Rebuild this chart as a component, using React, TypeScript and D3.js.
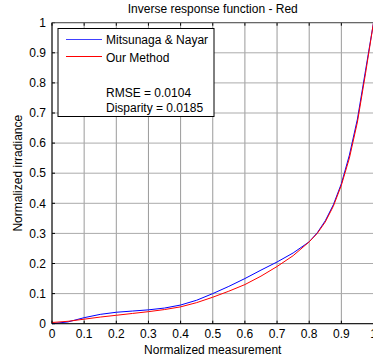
import React from "react";
import * as d3 from "d3";

const xs = [0, 0.05, 0.1, 0.15, 0.2, 0.25, 0.3, 0.35, 0.4, 0.45, 0.5, 0.55, 0.6, 0.65, 0.7, 0.75, 0.8, 0.825, 0.85, 0.875, 0.9, 0.925, 0.95, 0.975, 1.0];
const mitsunaga = [0.0, 0.006, 0.02, 0.031, 0.038, 0.042, 0.046, 0.052, 0.062, 0.078, 0.1, 0.124, 0.15, 0.178, 0.205, 0.235, 0.272, 0.302, 0.342, 0.395, 0.465, 0.56, 0.68, 0.84, 1.0];
const ours = [0.004, 0.008, 0.015, 0.022, 0.028, 0.034, 0.04, 0.047, 0.056, 0.07, 0.088, 0.108, 0.13, 0.158, 0.19, 0.226, 0.272, 0.3, 0.338, 0.39, 0.46, 0.55, 0.67, 0.83, 1.0];
const ticks = [0, 0.1, 0.2, 0.3, 0.4, 0.5, 0.6, 0.7, 0.8, 0.9, 1];
const legendNames = ["Mitsunaga & Nayar", "Our Method"];
const stats = ["RMSE = 0.0104", "Disparity = 0.0185"];

const W = 373, H = 364;
const L = 52, R = 373.5, T = 22.7, B = 323.7;
const font = "'Liberation Sans', Arial, sans-serif";
const FS = 12;

export default function App() {
  const x = d3.scaleLinear().domain([0, 1]).range([L, R]);
  const y = d3.scaleLinear().domain([0, 1]).range([B, T]);
  const line = (vals: number[]) =>
    d3.line<number>().x((_, i) => x(xs[i])).y((v) => y(v))(vals) || "";
  const fmt = (t: number) => (t === 0 || t === 1 ? String(t) : t.toFixed(1));

  return (
    <svg width={W} height={H} style={{ position: "absolute", left: 0, top: 0, background: "#fff" }} fontFamily={font}>
      <rect x={0} y={0} width={W} height={H} fill="#fff" />
      {/* grid */}
      {ticks.map((t) => (
        <line key={"gx" + t} x1={x(t)} x2={x(t)} y1={T} y2={B} stroke="#9a9a9a" strokeWidth={1} />
      ))}
      {ticks.map((t) => (
        <line key={"gy" + t} x1={L} x2={R} y1={y(t)} y2={y(t)} stroke="#ababab" strokeWidth={1} />
      ))}
      {/* tick marks */}
      {ticks.map((t) => (
        <g key={"tk" + t}>
          <line x1={x(t)} x2={x(t)} y1={B} y2={B - 3} stroke="#000" />
          <line x1={x(t)} x2={x(t)} y1={T} y2={T + 3} stroke="#000" />
          <line x1={L} x2={L + 3} y1={y(t)} y2={y(t)} stroke="#000" />
        </g>
      ))}
      {/* curves */}
      <path d={line(mitsunaga)} fill="none" stroke="#0000ff" strokeWidth={1} />
      <path d={line(ours)} fill="none" stroke="#ff0000" strokeWidth={1} />
      {/* axes box */}
      <line x1={L} x2={R} y1={B} y2={B} stroke="#000" />
      <line x1={L} x2={L} y1={T} y2={B} stroke="#000" />
      <line x1={L} x2={R} y1={T} y2={T} stroke="#555" />
      {/* tick labels */}
      {ticks.map((t) => (
        <text key={"xl" + t} x={x(t)} y={B + 14.5} fontSize={FS} textAnchor="middle" fill="#000">{fmt(t)}</text>
      ))}
      {ticks.map((t) => (
        <text key={"yl" + t} x={L - 6} y={y(t) + 4.2} fontSize={FS} textAnchor="end" fill="#000">{fmt(t)}</text>
      ))}
      {/* titles */}
      <text x={(L + R) / 2} y={12.5} fontSize={FS} textAnchor="middle" fill="#000">Inverse response function - Red</text>
      <text x={(L + R) / 2} y={354} fontSize={FS} textAnchor="middle" fill="#000">Normalized measurement</text>
      <text transform={`translate(22, ${(T + B) / 2}) rotate(-90)`} fontSize={FS} textAnchor="middle" fill="#000">Normalized irradiance</text>
      {/* legend */}
      <rect x={58} y={28.5} width={156} height={88} fill="#fff" stroke="#000" strokeWidth={1} />
      <line x1={66} x2={102} y1={39.5} y2={39.5} stroke="#4040ff" />
      <line x1={66} x2={102} y1={56.5} y2={56.5} stroke="#ff0000" />
      <text x={106} y={44.3} fontSize={FS} fill="#000">{legendNames[0]}</text>
      <text x={106} y={62} fontSize={FS} fill="#000">{legendNames[1]}</text>
      <text x={106} y={96.5} fontSize={FS} fill="#000">{stats[0]}</text>
      <text x={106} y={111.5} fontSize={FS} fill="#000">{stats[1]}</text>
    </svg>
  );
}
